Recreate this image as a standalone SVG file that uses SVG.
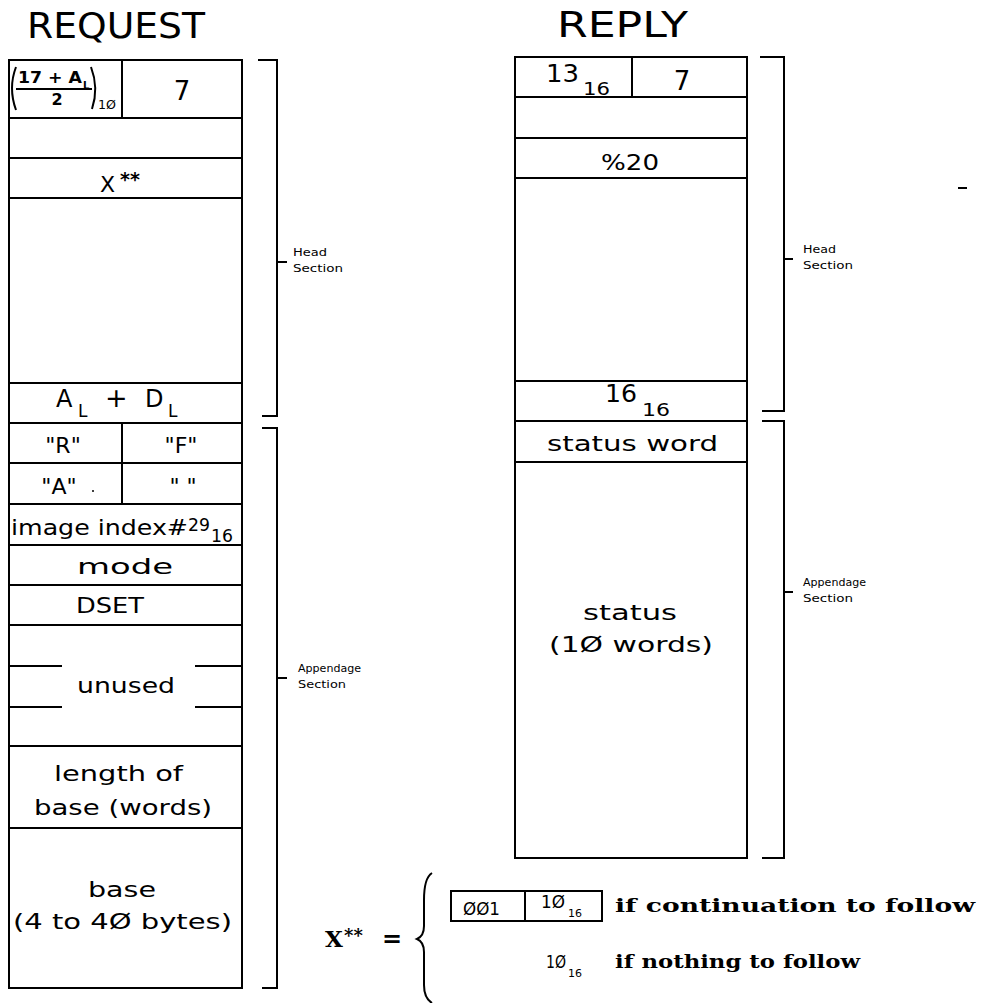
<svg xmlns="http://www.w3.org/2000/svg" width="982" height="1003" viewBox="0 0 982 1003">
<style>
.ln{stroke:#000;stroke-width:2;fill:none}
.t{font-family:"DejaVu Sans","Liberation Sans",sans-serif;fill:#000}
.c{text-anchor:middle}
.s{font-size:11px}
.b{font-family:"DejaVu Serif","Liberation Serif",serif;font-weight:bold;fill:#000}
</style>
<rect width="982" height="1003" fill="#fff"/>
<text class="t" x="27" y="38" font-size="35" textLength="178" lengthAdjust="spacingAndGlyphs">REQUEST</text>
<text class="t" x="557" y="37" font-size="35" textLength="131" lengthAdjust="spacingAndGlyphs">REPLY</text>

<g id="request">
<rect class="ln" x="9" y="60" width="233" height="928"/>
<g id="req-row1">
<line class="ln" x1="122" y1="60" x2="122" y2="118"/>
<path class="ln" d="M16,67 Q8,88 16,110" stroke-width="1.8"/>
<text class="t" x="18" y="83" font-size="16" font-weight="bold" textLength="64" lengthAdjust="spacingAndGlyphs">17 + A</text>
<text class="t" x="83" y="89" font-size="10" font-weight="bold">L</text>
<line class="ln" x1="16" y1="89" x2="92" y2="89" stroke-width="1.8"/>
<text class="t c" x="57" y="105" font-size="16" font-weight="bold">2</text>
<path class="ln" d="M91,67 Q99,88 92,109" stroke-width="1.8"/>
<text class="t" x="98" y="109" font-size="12" textLength="18" lengthAdjust="spacingAndGlyphs">1Ø</text>
<text class="t c" x="182" y="100" font-size="26">7</text>
</g>
<line class="ln" x1="9" y1="118" x2="242" y2="118"/>
<line class="ln" x1="9" y1="158" x2="242" y2="158"/>
<g id="req-x">
<text class="t" x="100" y="192" font-size="22">X</text>
<text class="t" x="120" y="186" font-size="19" font-weight="bold">**</text>
</g>
<line class="ln" x1="9" y1="198" x2="242" y2="198"/>
<line class="ln" x1="9" y1="383" x2="242" y2="383"/>
<g id="req-al">
<text class="t" x="56" y="407" font-size="24">A</text>
<text class="t" x="78" y="417" font-size="17">L</text>
<text class="t" x="105" y="407" font-size="27">+</text>
<text class="t" x="145" y="407" font-size="24">D</text>
<text class="t" x="168" y="417" font-size="17">L</text>
</g>
<line class="ln" x1="9" y1="423" x2="242" y2="423"/>
<line class="ln" x1="122" y1="423" x2="122" y2="504"/>
<text class="t c" x="63" y="453" font-size="22">"R"</text>
<text class="t c" x="181" y="453" font-size="22">"F"</text>
<line class="ln" x1="9" y1="463" x2="242" y2="463"/>
<text class="t c" x="59" y="494" font-size="22">"A"</text>
<circle cx="93" cy="491" r="1" fill="#000"/>
<text class="t c" x="183" y="494" font-size="22">" "</text>
<line class="ln" x1="9" y1="504" x2="242" y2="504"/>
<g id="req-image">
<text class="t" x="11" y="535" font-size="22" textLength="177" lengthAdjust="spacingAndGlyphs">image index#</text>
<text class="t" x="188" y="531" font-size="18" textLength="22" lengthAdjust="spacingAndGlyphs">29</text>
<text class="t" x="211" y="542" font-size="18" textLength="22" lengthAdjust="spacingAndGlyphs">16</text>
</g>
<line class="ln" x1="9" y1="545" x2="242" y2="545"/>
<text class="t c" x="125" y="574" font-size="22" textLength="96" lengthAdjust="spacingAndGlyphs">mode</text>
<line class="ln" x1="9" y1="585" x2="242" y2="585"/>
<text class="t" x="76" y="613" font-size="22" textLength="68" lengthAdjust="spacingAndGlyphs">DSET</text>
<line class="ln" x1="9" y1="625" x2="242" y2="625"/>
<g id="req-unused">
<line class="ln" x1="9" y1="666" x2="62" y2="666"/>
<line class="ln" x1="9" y1="707" x2="62" y2="707"/>
<line class="ln" x1="195" y1="666" x2="242" y2="666"/>
<line class="ln" x1="195" y1="707" x2="242" y2="707"/>
<text class="t" x="77" y="693" font-size="22" textLength="98" lengthAdjust="spacingAndGlyphs">unused</text>
</g>
<line class="ln" x1="9" y1="746" x2="242" y2="746"/>
<text class="t" x="54" y="781" font-size="22" textLength="129" lengthAdjust="spacingAndGlyphs">length of</text>
<text class="t" x="34" y="815" font-size="22" textLength="178" lengthAdjust="spacingAndGlyphs">base (words)</text>
<line class="ln" x1="9" y1="828" x2="242" y2="828"/>
<text class="t" x="88" y="897" font-size="22" textLength="68" lengthAdjust="spacingAndGlyphs">base</text>
<text class="t" x="13" y="929" font-size="22" textLength="219" lengthAdjust="spacingAndGlyphs">(4 to 4Ø bytes)</text>
</g>

<g id="request-brackets">
<path class="ln" d="M258,60 H277 V416 H262"/>
<line class="ln" x1="277" y1="262" x2="287" y2="262"/>
<text class="t s" x="293" y="256" textLength="34" lengthAdjust="spacingAndGlyphs">Head</text>
<text class="t s" x="293" y="272" textLength="50" lengthAdjust="spacingAndGlyphs">Section</text>
<path class="ln" d="M262,428 H277 V988 H262"/>
<line class="ln" x1="277" y1="678" x2="287" y2="678"/>
<text class="t s" x="298" y="672" textLength="63" lengthAdjust="spacingAndGlyphs">Appendage</text>
<text class="t s" x="298" y="688" textLength="48" lengthAdjust="spacingAndGlyphs">Section</text>
</g>

<g id="reply">
<rect class="ln" x="515" y="57" width="232" height="801"/>
<line class="ln" x1="632" y1="57" x2="632" y2="97"/>
<text class="t" x="546" y="82" font-size="24" textLength="33" lengthAdjust="spacingAndGlyphs">13</text>
<text class="t" x="583" y="95" font-size="17" textLength="27" lengthAdjust="spacingAndGlyphs">16</text>
<text class="t c" x="682" y="90" font-size="26">7</text>
<line class="ln" x1="515" y1="97" x2="747" y2="97"/>
<line class="ln" x1="515" y1="138" x2="747" y2="138"/>
<text class="t" x="601" y="170" font-size="22" textLength="58" lengthAdjust="spacingAndGlyphs">%20</text>
<line class="ln" x1="515" y1="178" x2="747" y2="178"/>
<line class="ln" x1="515" y1="381" x2="747" y2="381"/>
<text class="t" x="605" y="402" font-size="24" textLength="32" lengthAdjust="spacingAndGlyphs">16</text>
<text class="t" x="642" y="416" font-size="17" textLength="28" lengthAdjust="spacingAndGlyphs">16</text>
<line class="ln" x1="515" y1="421" x2="747" y2="421"/>
<text class="t" x="547" y="451" font-size="22" textLength="171" lengthAdjust="spacingAndGlyphs">status word</text>
<line class="ln" x1="515" y1="462" x2="747" y2="462"/>
<text class="t" x="583" y="620" font-size="22" textLength="94" lengthAdjust="spacingAndGlyphs">status</text>
<text class="t" x="549" y="652" font-size="22" textLength="164" lengthAdjust="spacingAndGlyphs">(1Ø words)</text>
</g>

<g id="reply-brackets">
<path class="ln" d="M760,57 H784 V411 H762"/>
<line class="ln" x1="784" y1="259" x2="793" y2="259"/>
<text class="t s" x="803" y="253" textLength="33" lengthAdjust="spacingAndGlyphs">Head</text>
<text class="t s" x="803" y="269" textLength="50" lengthAdjust="spacingAndGlyphs">Section</text>
<path class="ln" d="M762,421 H784 V858 H762"/>
<line class="ln" x1="784" y1="592" x2="793" y2="592"/>
<text class="t s" x="803" y="586" textLength="63" lengthAdjust="spacingAndGlyphs">Appendage</text>
<text class="t s" x="803" y="602" textLength="50" lengthAdjust="spacingAndGlyphs">Section</text>
</g>

<line class="ln" x1="958" y1="188" x2="967" y2="188" stroke-width="1.5"/>

<g id="legend">
<text class="b" x="325" y="947" font-size="23">X</text>
<text class="b" x="344" y="942" font-size="18">**</text>
<text class="b" x="382" y="947" font-size="24">=</text>
<path class="ln" d="M432,873 Q424,878 424,900 L424,926 Q424,936 417,939 Q424,942 424,952 L424,985 Q424,998 432,1003"/>
<rect class="ln" x="451" y="891" width="151" height="30"/>
<line class="ln" x1="525" y1="891" x2="525" y2="921"/>
<text class="t" x="463" y="915" font-size="17" textLength="37" lengthAdjust="spacingAndGlyphs">ØØ1</text>
<text class="t" x="541" y="908" font-size="17" textLength="24" lengthAdjust="spacingAndGlyphs">1Ø</text>
<text class="t" x="568" y="917" font-size="11">16</text>
<text class="b" x="615" y="912" font-size="19" textLength="360" lengthAdjust="spacingAndGlyphs">if continuation to follow</text>
<text class="t" x="546" y="968" font-size="17" textLength="20" lengthAdjust="spacingAndGlyphs">1Ø</text>
<text class="t" x="568" y="977" font-size="11">16</text>
<text class="b" x="615" y="968" font-size="19" textLength="245" lengthAdjust="spacingAndGlyphs">if nothing to follow</text>
</g>
</svg>
